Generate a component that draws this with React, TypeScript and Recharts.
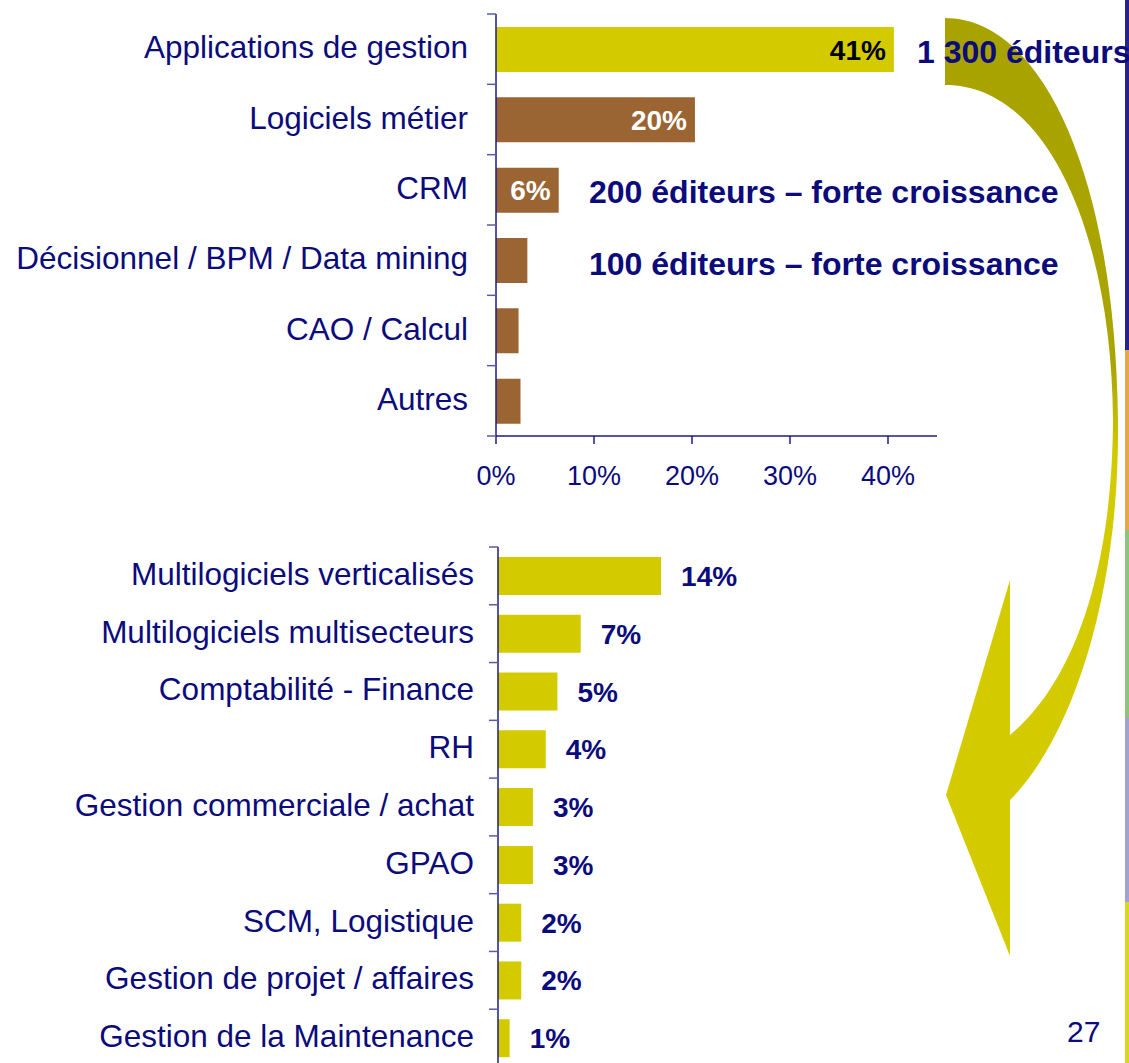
import React from 'react';
import { BarChart, Bar, XAxis, YAxis, Cell, LabelList } from 'recharts';

const topCategories = [
  'Applications de gestion',
  'Logiciels métier',
  'CRM',
  'Décisionnel / BPM / Data mining',
  'CAO / Calcul',
  'Autres',
];
const topValues = [0.406, 0.203, 0.064, 0.032, 0.023, 0.025];
const topLabels = ['41%', '20%', '6%', '', '', ''];
const xTicks = [0, 0.1, 0.2, 0.3, 0.4];

const bottomCategories = [
  'Multilogiciels verticalisés',
  'Multilogiciels multisecteurs',
  'Comptabilité - Finance',
  'RH',
  'Gestion commerciale / achat',
  'GPAO',
  'SCM, Logistique',
  'Gestion de projet / affaires',
  'Gestion de la Maintenance',
];
const bottomValues = [0.14, 0.071, 0.051, 0.041, 0.03, 0.03, 0.02, 0.02, 0.01];
const bottomLabels = ['14%', '7%', '5%', '4%', '3%', '3%', '2%', '2%', '1%'];

const notes = ['1 300 éditeurs', '200 éditeurs – forte croissance', '100 éditeurs – forte croissance'];
const pageNumber = '27';

const topData = topCategories.map((name, i) => ({ name, value: topValues[i], label: topLabels[i] }));
const bottomData = bottomCategories.map((name, i) => ({ name, value: bottomValues[i], label: bottomLabels[i] }));

const FONT = '"Liberation Sans", Arial, Helvetica, sans-serif';
const NAVY = '#0b0b7c';
const AXIS = '#1c1c86';
const TICK = '#5a5aa8';
const YELLOW = '#d3cb00';
const BROWN = '#9a6433';

// category ticks sit on band edges, not on band centers
const CategoryTick = (props: any) => {
  const { x, y, payload, index, count, band, axisX, gap } = props;
  const marks = [y - band / 2];
  if (index === count - 1) marks.push(y + band / 2);
  return (
    <g>
      {marks.map((ty, i) => (
        <line key={i} x1={axisX - 9} x2={axisX} y1={ty} y2={ty} stroke={TICK} strokeWidth={1.5} />
      ))}
      <text x={axisX - gap} y={y} dy={9} textAnchor="end" fill={NAVY} fontSize={31.5} fontFamily={FONT}>
        {payload.value}
      </text>
    </g>
  );
};

const insideLabel = (p: any) => {
  const { x, y, width, height, value, index } = p;
  if (!value) return null;
  return (
    <text
      x={x + width - 8}
      y={y + height / 2 + 10}
      textAnchor="end"
      fill={index === 0 ? '#000' : '#fff'}
      fontSize={28}
      fontWeight="bold"
      fontFamily={FONT}
    >
      {value}
    </text>
  );
};

const outsideLabel = (p: any) => {
  const { x, y, width, height, value } = p;
  return (
    <text x={x + width + 20} y={y + height / 2 + 10} fill={NAVY} fontSize={28} fontWeight="bold" fontFamily={FONT}>
      {value}
    </text>
  );
};

export default function App() {
  return (
    <div
      style={{
        position: 'absolute',
        left: 0,
        top: 0,
        width: 1129,
        height: 1063,
        overflow: 'hidden',
        background: '#fff',
        fontFamily: FONT,
      }}
    >
      <div style={{ position: 'absolute', left: 0, top: 0 }}>
        <BarChart width={1129} height={500} data={topData} layout="vertical" margin={{ top: 14, right: 192, bottom: 0, left: 0 }}>
          <XAxis
            type="number"
            domain={[0, 0.45]}
            ticks={xTicks}
            tickFormatter={(v: number) => `${Math.round(v * 100)}%`}
            axisLine={{ stroke: AXIS, strokeWidth: 1.5 }}
            tickLine={{ stroke: AXIS, strokeWidth: 1.5 }}
            tickSize={8}
            tickMargin={22}
            tick={{ fill: NAVY, fontSize: 27, fontFamily: FONT }}
            height={64}
            allowDataOverflow
          />
          <YAxis
            type="category"
            dataKey="name"
            width={496}
            interval={0}
            axisLine={{ stroke: AXIS, strokeWidth: 1.5 }}
            tickLine={false}
            tick={<CategoryTick count={topData.length} band={422 / 6} axisX={496} gap={28} />}
          />
          <Bar dataKey="value" barSize={45} isAnimationActive={false}>
            {topData.map((d, i) => (
              <Cell key={d.name} fill={i === 0 ? YELLOW : BROWN} />
            ))}
            <LabelList dataKey="label" content={insideLabel} />
          </Bar>
        </BarChart>
      </div>

      <div style={{ position: 'absolute', left: 0, top: 530 }}>
        <BarChart width={1129} height={540} data={bottomData} layout="vertical" margin={{ top: 17, right: 165, bottom: 3, left: 0 }}>
          <XAxis type="number" domain={[0, 0.4]} hide />
          <YAxis
            type="category"
            dataKey="name"
            width={498}
            interval={0}
            axisLine={{ stroke: AXIS, strokeWidth: 1.5 }}
            tickLine={false}
            tick={<CategoryTick count={bottomData.length} band={520 / 9} axisX={498} gap={24} />}
          />
          <Bar dataKey="value" barSize={38} fill={YELLOW} isAnimationActive={false}>
            <LabelList dataKey="label" content={outsideLabel} />
          </Bar>
        </BarChart>
      </div>

      <svg width={1129} height={1063} style={{ position: 'absolute', left: 0, top: 0, pointerEvents: 'none' }}>
        <defs>
          <linearGradient id="arrowFill" gradientUnits="userSpaceOnUse" x1={0} y1={18} x2={0} y2={956}>
            <stop offset="0" stopColor="#a8a300" />
            <stop offset="0.37" stopColor="#aaa500" />
            <stop offset="0.47" stopColor={YELLOW} />
            <stop offset="1" stopColor={YELLOW} />
          </linearGradient>
        </defs>
        <path
          d="M945,18 C1040,18 1115,170 1118,420 C1120,600 1070,740 1010,800 L1010,735 C1065,690 1112,590 1113,420 C1112,240 1050,85 945,85 Z"
          fill="url(#arrowFill)"
        />
        <polygon points="1010,580 946,795 1010,956" fill={YELLOW} />

        <rect x={1125} y={0} width={4} height={350} fill="#23238a" />
        <rect x={1125} y={350} width={4} height={180} fill="#e0aa4c" />
        <rect x={1125} y={530} width={4} height={188} fill="#8cc47c" />
        <rect x={1125} y={718} width={4} height={184} fill="#a2a2d0" />
        <rect x={1125} y={902} width={4} height={161} fill="#d8d820" />

        <g fill={NAVY} fontFamily={FONT} fontWeight="bold" fontSize={32}>
          <text x={917} y={63}>{notes[0]}</text>
          <text x={589} y={203}>{notes[1]}</text>
          <text x={589} y={275}>{notes[2]}</text>
        </g>
        <text x={1067} y={1042} fill={NAVY} fontFamily={FONT} fontSize={30}>
          {pageNumber}
        </text>
      </svg>
    </div>
  );
}
